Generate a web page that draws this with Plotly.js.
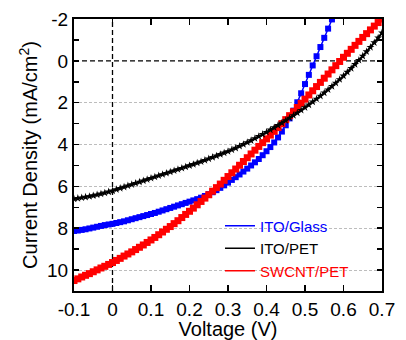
<!DOCTYPE html>
<html>
<head>
<meta charset="utf-8">
<script src="https://cdn.plot.ly/plotly-3.0.1.min.js"></script>
<style>
  html, body { margin: 0; padding: 0; background: #ffffff; }
  #chart { width: 406px; height: 340px; }
</style>
</head>
<body>
<div id="chart"></div>
<script>
// Bias voltage sweep (V), 10 mV steps
const voltage = [
  -0.10, -0.09, -0.08, -0.07, -0.06, -0.05, -0.04, -0.03, -0.02, -0.01,
   0.00,  0.01,  0.02,  0.03,  0.04,  0.05,  0.06,  0.07,  0.08,  0.09,
   0.10,  0.11,  0.12,  0.13,  0.14,  0.15,  0.16,  0.17,  0.18,  0.19,
   0.20,  0.21,  0.22,  0.23,  0.24,  0.25,  0.26,  0.27,  0.28,  0.29,
   0.30,  0.31,  0.32,  0.33,  0.34,  0.35,  0.36,  0.37,  0.38,  0.39,
   0.40,  0.41,  0.42,  0.43,  0.44,  0.45,  0.46,  0.47,  0.48,  0.49,
   0.50,  0.51,  0.52,  0.53,  0.54,  0.55,  0.56,  0.57,  0.58,  0.59,
   0.60,  0.61,  0.62,  0.63,  0.64,  0.65,  0.66,  0.67,  0.68,  0.69,
   0.70
];

// Current density (mA/cm^2) for each electrode
const jItoGlass = [
  8.13, 8.11, 8.08, 8.05, 8.01, 7.97, 7.93, 7.89, 7.85, 7.82,
  7.79, 7.75, 7.71, 7.67, 7.62, 7.57, 7.52, 7.47, 7.42, 7.37,
  7.32, 7.27, 7.21, 7.15, 7.09, 7.03, 6.97, 6.91, 6.85, 6.79,
  6.73, 6.67, 6.61, 6.54, 6.46, 6.37, 6.28, 6.18, 6.07, 5.95,
  5.82, 5.69, 5.56, 5.43, 5.29, 5.15, 5.00, 4.85, 4.69, 4.51,
  4.32, 4.12, 3.90, 3.66, 3.38, 3.08, 2.75, 2.38, 1.98, 1.55,
  1.11, 0.67, 0.22, -0.22, -0.66, -1.10, -1.54, -1.98
];

const jItoPet = [
  6.60, 6.57, 6.54, 6.51, 6.48, 6.44, 6.40, 6.36, 6.31, 6.26,
  6.21, 6.15, 6.09, 6.03, 5.97, 5.91, 5.85, 5.79, 5.73, 5.67,
  5.61, 5.55, 5.49, 5.43, 5.37, 5.31, 5.25, 5.19, 5.13, 5.07,
  5.01, 4.95, 4.88, 4.82, 4.75, 4.68, 4.61, 4.54, 4.47, 4.40,
  4.33, 4.25, 4.17, 4.08, 3.99, 3.90, 3.81, 3.71, 3.61, 3.51,
  3.41, 3.30, 3.19, 3.08, 2.97, 2.85, 2.73, 2.61, 2.49, 2.36,
  2.23, 2.10, 1.96, 1.82, 1.68, 1.53, 1.38, 1.22, 1.06, 0.89,
  0.72, 0.54, 0.36, 0.17, -0.03, -0.23, -0.44, -0.65, -0.87, -1.10,
  -1.34
];

const jSwcntPet = [
  10.50, 10.42, 10.33, 10.25, 10.17, 10.08, 9.99, 9.90, 9.82, 9.73,
  9.64, 9.54, 9.44, 9.33, 9.23, 9.13, 9.02, 8.91, 8.80, 8.68,
  8.56, 8.44, 8.31, 8.18, 8.05, 7.92, 7.78, 7.64, 7.49, 7.34,
  7.19, 7.04, 6.88, 6.72, 6.56, 6.40, 6.23, 6.06, 5.89, 5.71,
  5.53, 5.35, 5.17, 4.99, 4.81, 4.63, 4.45, 4.27, 4.09, 3.91,
  3.73, 3.55, 3.37, 3.19, 3.00, 2.81, 2.62, 2.43, 2.23, 2.03,
  1.83, 1.63, 1.43, 1.23, 1.03, 0.83, 0.63, 0.43, 0.23, 0.03,
  -0.17, -0.36, -0.55, -0.74, -0.93, -1.12, -1.30, -1.48, -1.66, -1.83,
  -2.00
];

const seriesNames = ['ITO/Glass', 'ITO/PET', 'SWCNT/PET'];
const seriesColors = ['#0000ff', '#000000', '#ff0000'];

const xTickVals = [-0.1, 0, 0.1, 0.2, 0.3, 0.4, 0.5, 0.6, 0.7];
const xTickText = ['-0.1', '0', '0.1', '0.2', '0.3', '0.4', '0.5', '0.6', '0.7'];
const yTickVals = [-2, 0, 2, 4, 6, 8, 10];
const yTickText = ['-2', '0', '2', '4', '6', '8', '10'];
const yMinorTickVals = [-1, 1, 3, 5, 7, 9];
const yGridVals = [2, 4, 6, 8, 10];

const FONT = 'Liberation Sans, Arial, Helvetica, sans-serif';

const traces = [
  // empty trace that keeps the grid-only axis (y2) active
  { x: [null], y: [null], yaxis: 'y2', type: 'scatter', mode: 'lines',
    showlegend: false, hoverinfo: 'skip' },
  {
    x: voltage.slice(0, jItoGlass.length), y: jItoGlass,
    type: 'scatter', mode: 'lines+markers', showlegend: false, hoverinfo: 'skip',
    line: { color: seriesColors[0], width: 1.5 },
    marker: { symbol: 'square', size: 6, color: seriesColors[0] }
  },
  {
    x: voltage, y: jSwcntPet,
    type: 'scatter', mode: 'lines+markers', showlegend: false, hoverinfo: 'skip',
    line: { color: seriesColors[2], width: 1.5 },
    marker: { symbol: 'square', size: 7, color: seriesColors[2] }
  },
  {
    x: voltage, y: jItoPet,
    type: 'scatter', mode: 'lines+markers', showlegend: false, hoverinfo: 'skip',
    line: { color: seriesColors[1], width: 2 },
    marker: { symbol: 'star', size: 6, color: seriesColors[1] }
  }
];

// Legend entries: plain line samples with text coloured like the series
seriesNames.forEach(function (name, i) {
  traces.push({
    x: [null], y: [null], type: 'scatter', mode: 'lines', hoverinfo: 'skip',
    name: '<span style="color:' + seriesColors[i] + '">' + name + '</span>',
    line: { color: seriesColors[i], width: 1.5 }
  });
});

const axisCommon = {
  ticks: 'inside', tickcolor: '#000000', tickwidth: 1.5,
  showline: true, linecolor: '#000000', linewidth: 2, mirror: 'ticks',
  zeroline: false, tickfont: { family: FONT, size: 19, color: '#000000' }
};

const layout = {
  width: 406, height: 340,
  margin: { l: 74, r: 24, t: 19, b: 49 },
  paper_bgcolor: '#ffffff', plot_bgcolor: '#ffffff',
  font: { family: FONT, color: '#000000' },
  showlegend: true,
  legend: {
    x: 0.474, xanchor: 'left', y: 0.3, yanchor: 'top',
    bgcolor: 'rgba(0,0,0,0)', borderwidth: 0,
    font: { family: FONT, size: 15, color: '#000000' }
  },
  xaxis: Object.assign({}, axisCommon, {
    range: [-0.1, 0.7], tickmode: 'array', tickvals: xTickVals, ticktext: xTickText,
    ticklen: 6, showgrid: false,
    title: { text: 'Voltage (V)', font: { family: FONT, size: 20, color: '#000000' }, standoff: 2 }
  }),
  yaxis: Object.assign({}, axisCommon, {
    range: [11, -2], tickmode: 'array', tickvals: yTickVals, ticktext: yTickText,
    ticklen: 5, showgrid: false,
    minor: { tickmode: 'array', tickvals: yMinorTickVals, ticks: 'inside', ticklen: 5,
             tickcolor: '#000000', tickwidth: 1.5, showgrid: false },
    title: { text: 'Current Density (mA/cm<sup>2</sup>)',
             font: { family: FONT, size: 20, color: '#000000' }, standoff: 4 }
  }),
  // fine dashed horizontal grid (the zero line is drawn separately, darker)
  yaxis2: {
    overlaying: 'y', side: 'left', range: [11, -2],
    tickmode: 'array', tickvals: yGridVals, showticklabels: false, ticks: '',
    showline: false, zeroline: false,
    showgrid: true, gridcolor: '#bdbdbd', gridwidth: 1, griddash: '3px,2px'
  },
  shapes: [
    { type: 'line', layer: 'between', xref: 'paper', yref: 'y', x0: 0, x1: 1, y0: 0, y1: 0,
      line: { color: '#000000', width: 1.3, dash: '5px,3px' } },
    { type: 'line', layer: 'between', xref: 'x', yref: 'paper', x0: 0, x1: 0, y0: 0, y1: 1,
      line: { color: '#000000', width: 1.3, dash: '5px,3px' } }
  ]
};

Plotly.newPlot('chart', traces, layout, { displayModeBar: false, staticPlot: true });
</script>
</body>
</html>
